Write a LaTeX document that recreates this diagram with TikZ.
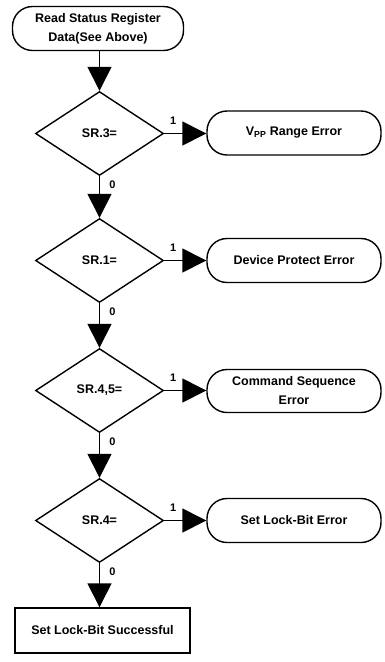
\documentclass[tikz,border=0pt]{standalone}
\usepackage{fontspec}
\setmainfont{Liberation Sans}
\usetikzlibrary{shapes.geometric,arrows.meta}
\begin{document}
\begin{tikzpicture}[x=1pt,y=-1pt,
  every node/.style={font=\bfseries\fontsize{12.5}{19}\selectfont},
  term/.style={draw,line width=1.4pt,rounded corners=20pt,minimum width=172pt,minimum height=44pt,align=center,inner sep=2pt},
  dec/.style={draw,diamond,line width=1.4pt,minimum width=128pt,minimum height=84pt,inner sep=0pt},
  proc/.style={draw,line width=1.4pt,minimum width=175pt,minimum height=45pt,inner sep=2pt},
  flow/.style={line width=1.4pt,-{Triangle[length=24pt,width=24pt]}},
  lab/.style={font=\bfseries\fontsize{11}{12}\selectfont}]
\useasboundingbox (0,0) rectangle (384,662);
\node[term,minimum width=171pt] (start) at (98,28.5) {Read Status Register\\Data(See Above)};
\node[dec] (d1) at (99.5,133.5) {SR.3=};
\node[dec] (d2) at (99.5,260.5) {SR.1=};
\node[dec] (d3) at (99.5,390.5) {SR.4,5=};
\node[dec] (d4) at (99.5,520.5) {SR.4=};
\node[term,minimum width=174pt] (e1) at (294,133) {V\textsubscript{PP} Range Error};
\node[term,minimum width=174pt] (e2) at (294,260.5) {Device Protect Error};
\node[term,minimum width=174pt,minimum height=43pt] (e3) at (294,391) {Command Sequence\\Error};
\node[term,minimum width=174pt] (e4) at (294,520.5) {Set Lock-Bit Error};
\node[proc] (ok) at (102.5,630.5) {Set Lock-Bit Successful};
\draw[flow] (start.south -| d1.north) -- (d1.north);
\draw[flow] (d1.south) -- (d2.north);
\draw[flow] (d2.south) -- (d3.north);
\draw[flow] (d3.south) -- (d4.north);
\draw[flow] (d4.south) -- (d4.south |- ok.north);
\draw[flow] (d1.east) -- (e1.west |- d1.east);
\draw[flow] (d2.east) -- (e2.west |- d2.east);
\draw[flow] (d3.east) -- (e3.west |- d3.east);
\draw[flow] (d4.east) -- (e4.west |- d4.east);
\foreach \d in {d1,d2,d3,d4}{
  \node[lab] (one\d) at ([xshift=9pt,yshift=13pt]\d.east) {1};
  \node[lab] (zero\d) at ([xshift=13pt,yshift=-9pt]\d.south) {0};
}
\end{tikzpicture}
\end{document}
